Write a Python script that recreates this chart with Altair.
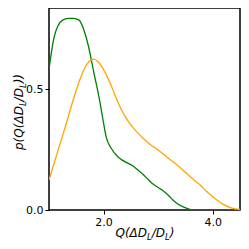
import altair as alt
import pandas as pd

green_x = [1.0, 1.05, 1.10, 1.16, 1.25, 1.35, 1.45, 1.55, 1.65, 1.72, 1.77, 1.82, 1.87, 1.93, 1.99,
           2.05, 2.14, 2.26, 2.35, 2.45, 2.54, 2.63, 2.72, 2.81, 2.90, 3.0, 3.09, 3.2, 3.27, 3.36,
           3.46, 3.58, 3.7, 4.5]
green_y = [0.58, 0.66, 0.72, 0.76, 0.785, 0.792, 0.792, 0.785, 0.737, 0.68, 0.627, 0.57, 0.517, 0.45, 0.372,
           0.30, 0.255, 0.22, 0.205, 0.193, 0.182, 0.165, 0.148, 0.128, 0.108, 0.093, 0.080, 0.058, 0.041, 0.025,
           0.013, 0.003, 0.0, 0.0]

orange_x = [1.0, 1.15, 1.3, 1.45, 1.56, 1.65, 1.74, 1.82, 1.9, 2.0, 2.1, 2.2, 2.3, 2.4, 2.5, 2.6, 2.7,
            2.85, 3.0, 3.2, 3.4, 3.6, 3.76, 3.9, 4.07, 4.2, 4.35, 4.5]
orange_y = [0.124, 0.235, 0.345, 0.46, 0.535, 0.585, 0.615, 0.624, 0.613, 0.58, 0.535, 0.48, 0.427, 0.385,
            0.352, 0.325, 0.302, 0.272, 0.248, 0.212, 0.176, 0.135, 0.105, 0.074, 0.042, 0.022, 0.008, 0.002]

x_ticks = [2.0, 4.0]
y_ticks = [0.0, 0.5]

# axis title pieces: (text, is_subscript)
x_title_parts = [("Q(ΔD", False), ("L", True), ("/D", False), ("L", True), (")", False)]
y_title_parts = [("p(Q(ΔD", False), ("L", True), ("/D", False), ("L", True), ("))", False)]

W, H = 191, 202
FS, SFS = 12, 8.5
ADV = {"Q": 0.787, "(": 0.390, ")": 0.390, "Δ": 0.684, "D": 0.770, "L": 0.557, "/": 0.337, "p": 0.635}


def seg_width(t, sub):
    return sum(ADV[c] for c in t) * (SFS if sub else FS)


df = pd.concat([
    pd.DataFrame({"q": green_x, "p": green_y, "s": "green"}),
    pd.DataFrame({"q": orange_x, "p": orange_y, "s": "orange"}),
])

lines = alt.Chart(df).mark_line(strokeWidth=1.3, clip=True, interpolate="monotone").encode(
    x=alt.X("q:Q", scale=alt.Scale(domain=[1.0, 4.5], nice=False, zero=False),
            axis=alt.Axis(values=x_ticks, format=".1f", title=None)),
    y=alt.Y("p:Q", scale=alt.Scale(domain=[0, 0.835], nice=False),
            axis=alt.Axis(values=y_ticks, format=".1f", title=None)),
    color=alt.Color("s:N", scale=alt.Scale(domain=["green", "orange"], range=["#008000", "#FFA500"]), legend=None),
    detail="s:N",
)

one = pd.DataFrame({"a": [0]})
layers = [lines]

# x title
total = sum(seg_width(t, s) for t, s in x_title_parts)
cx = W / 2 + 0.5 - total / 2
for t, s in x_title_parts:
    layers.append(alt.Chart(one).mark_text(
        text=t, align="left", baseline="alphabetic", font="DejaVu Sans", fontStyle="oblique",
        fontSize=SFS if s else FS, color="black").encode(
        x=alt.value(cx), y=alt.value(H + 27 + (3 if s else 0))))
    cx += seg_width(t, s)

# y title (rotated)
total = sum(seg_width(t, s) for t, s in y_title_parts)
cy = H / 2 + 3 + total / 2
for t, s in y_title_parts:
    layers.append(alt.Chart(one).mark_text(
        text=t, align="left", baseline="alphabetic", font="DejaVu Sans", fontStyle="oblique",
        fontSize=SFS if s else FS, color="black", angle=270).encode(
        x=alt.value(-26 + (3 if s else 0)), y=alt.value(cy)))
    cy -= seg_width(t, s)

chart = alt.layer(*layers).properties(
    width=W, height=H,
    autosize=alt.AutoSizeParams(type="none"),
    padding={"left": 41, "top": 0, "right": 1, "bottom": 31},
).configure_view(
    stroke="black", strokeWidth=1.5
).configure_axis(
    domain=False, grid=False, ticks=True, tickColor="black", tickSize=4, tickWidth=1,
    labelFont="DejaVu Sans", labelFontSize=11, labelColor="black", labelPadding=2,
)

chart.save("out.html", embed_options={"renderer": "svg", "actions": False})
